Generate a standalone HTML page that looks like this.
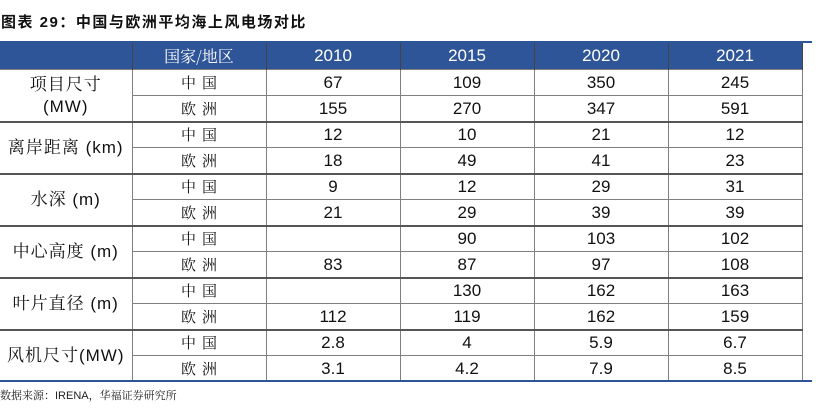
<!DOCTYPE html>
<html><head><meta charset="utf-8"><style>
body{margin:0;width:816px;height:412px;background:#fff;position:relative;overflow:hidden;font-family:"Liberation Sans","Noto Sans CJK SC",sans-serif}
#title{position:absolute;left:1px;top:11px;font-size:15px;font-weight:bold;color:#111;letter-spacing:1.5px}
#topline{position:absolute;left:0;top:41px;width:812px;height:2px;background:#2e5597}
#botline{position:absolute;left:0;top:380px;width:812px;height:2px;background:#2e5597}
table{position:absolute;left:0;top:43px;border-collapse:collapse;table-layout:fixed}
td{height:25px;line-height:18px;padding:0;text-align:center;font-size:17px;color:#111;border:1px solid #7f7f7f;overflow:hidden}
tr.gr td{height:24px}
th{height:26px;line-height:18px;padding:0;background:#2e5597;color:#fff;font-weight:normal;font-size:17px;border-left:1px solid #444;border-right:1px solid #444}
th:first-child{border-left:none}
td.lab{border-left:none;font-family:"Liberation Sans","Noto Serif CJK SC",serif;line-height:22px;letter-spacing:1px}
td.reg{font-family:"Noto Serif CJK SC",serif;font-size:15px;letter-spacing:6px;text-indent:6px}
td.g{border-top:2px solid #555}
#src{position:absolute;left:0;top:387px;font-size:11px;color:#222;font-family:"Liberation Sans","Noto Serif CJK SC",serif}
</style></head><body>
<div id="title">图表 29：中国与欧洲平均海上风电场对比</div>
<div id="topline"></div>
<table>
<colgroup><col style="width:132px"><col style="width:134px"><col style="width:134px"><col style="width:134px"><col style="width:134px"><col style="width:134px"></colgroup>
<tr><th></th><th style="font-family:'Noto Serif CJK SC',serif;font-size:16px">国家/地区</th><th>2010</th><th>2015</th><th>2020</th><th>2021</th></tr>
<tr><td class="lab" rowspan="2">项目尺寸<br>(MW)</td><td class="reg">中国</td><td>67</td><td>109</td><td>350</td><td>245</td></tr>
<tr><td class="reg">欧洲</td><td>155</td><td>270</td><td>347</td><td>591</td></tr>
<tr class="gr"><td class="lab g" rowspan="2">离岸距离 (km)</td><td class="reg g">中国</td><td class="g">12</td><td class="g">10</td><td class="g">21</td><td class="g">12</td></tr>
<tr><td class="reg">欧洲</td><td>18</td><td>49</td><td>41</td><td>23</td></tr>
<tr class="gr"><td class="lab g" rowspan="2">水深 (m)</td><td class="reg g">中国</td><td class="g">9</td><td class="g">12</td><td class="g">29</td><td class="g">31</td></tr>
<tr><td class="reg">欧洲</td><td>21</td><td>29</td><td>39</td><td>39</td></tr>
<tr class="gr"><td class="lab g" rowspan="2">中心高度 (m)</td><td class="reg g">中国</td><td class="g"></td><td class="g">90</td><td class="g">103</td><td class="g">102</td></tr>
<tr><td class="reg">欧洲</td><td>83</td><td>87</td><td>97</td><td>108</td></tr>
<tr class="gr"><td class="lab g" rowspan="2">叶片直径 (m)</td><td class="reg g">中国</td><td class="g"></td><td class="g">130</td><td class="g">162</td><td class="g">163</td></tr>
<tr><td class="reg">欧洲</td><td>112</td><td>119</td><td>162</td><td>159</td></tr>
<tr class="gr"><td class="lab g" rowspan="2">风机尺寸(MW)</td><td class="reg g">中国</td><td class="g">2.8</td><td class="g">4</td><td class="g">5.9</td><td class="g">6.7</td></tr>
<tr><td class="reg">欧洲</td><td>3.1</td><td>4.2</td><td>7.9</td><td>8.5</td></tr>
</table>
<div id="botline"></div>
<div id="src">数据来源：IRENA，华福证券研究所</div>
</body></html>
